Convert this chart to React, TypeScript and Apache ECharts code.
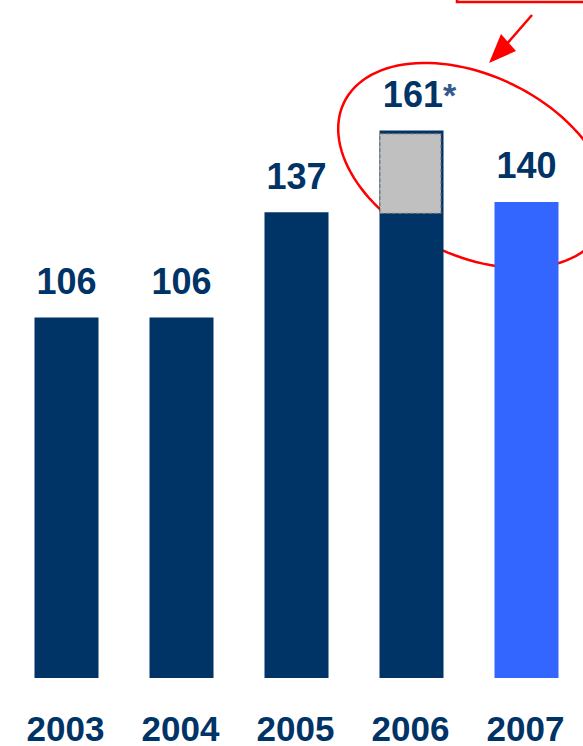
import React, { useEffect, useRef } from "react";
import * as echarts from "echarts";

const years = ["2003", "2004", "2005", "2006", "2007"];
const values = [106, 106, 137, 161, 140];
const valueLabels = ["106", "106", "137", "161*", "140"];
const barColors = ["#003366", "#003366", "#003366", "#003366", "#3366FF"];
// grey adjusted portion on the 2006 bar
const adjBase = [null, null, null, 136.5, null];
const adjPart = [null, null, null, 23.7, null];

function ellipsePoints(cx: number, cy: number, a: number, b: number, deg: number) {
  const phi = (deg * Math.PI) / 180;
  const pts: number[][] = [];
  for (let i = 0; i < 120; i++) {
    const t = (i / 120) * Math.PI * 2;
    const x = a * Math.cos(t);
    const y = b * Math.sin(t);
    pts.push([cx + x * Math.cos(phi) - y * Math.sin(phi), cy + x * Math.sin(phi) + y * Math.cos(phi)]);
  }
  return pts;
}

export default function App() {
  const ref = useRef<HTMLDivElement>(null);
  useEffect(() => {
    document.body.style.margin = "0";
    const chart = echarts.init(ref.current!, null, { renderer: "svg" });
    const textColor = "#003366";
    const font = "'Liberation Sans', Arial, sans-serif";
    chart.setOption({
      animation: false,
      grid: { left: 8, width: 575, top: 0, bottom: 68, containLabel: false },
      xAxis: {
        type: "category",
        data: years,
        axisLine: { show: false },
        axisTick: { show: false },
        axisLabel: {
          margin: 35,
          lineHeight: 30,
          color: textColor,
          fontSize: 35,
          fontWeight: "bold",
          fontFamily: font,
        },
      },
      yAxis: { type: "value", min: 0, max: 199.4, show: false, splitLine: { show: false } },
      series: [
        {
          type: "bar",
          barWidth: 64,
          barGap: "-100%",
          data: values.map((v, i) => ({ value: v, itemStyle: { color: barColors[i] } })),
          label: {
            show: true,
            position: "top",
            distance: 18,
            fontFamily: font,
            formatter: (p: any) => {
              const t = valueLabels[p.dataIndex];
              return t.endsWith("*") ? `{p| }{v|${t.slice(0, -1)}}{s|*}` : `{v|${t}}`;
            },
            rich: {
              v: { fontSize: 36, fontWeight: "bold", color: textColor, fontFamily: font },
              s: { fontSize: 34, fontWeight: "bold", color: "#34598c", fontFamily: font },
              p: { fontSize: 36, width: 16 },
            },
          },
        },
        {
          type: "bar",
          stack: "adj",
          barWidth: 62,
          barGap: "-100%",
          data: adjBase,
          itemStyle: { color: "transparent" },
          silent: true,
        },
        {
          type: "bar",
          stack: "adj",
          barWidth: 62,
          data: adjPart,
          itemStyle: { color: "#C0C0C0", borderColor: "#6f6f6f", borderWidth: 1, borderType: "dashed" },
        },
      ],
      graphic: [
        {
          type: "rect",
          shape: { x: 457, y: -20, width: 200, height: 22 },
          style: { fill: "none", stroke: "#FF0000", lineWidth: 2.5 },
        },
        {
          type: "line",
          shape: { x1: 532, y1: 15, x2: 505, y2: 46 },
          style: { stroke: "#FF0000", lineWidth: 2.5 },
        },
        {
          type: "polygon",
          shape: { points: [[489, 63], [501, 34], [516, 51]] },
          style: { fill: "#FF0000" },
        },
        {
          type: "polygon",
          shape: { points: ellipsePoints(473.5, 165.5, 144, 90, 26), smooth: 0 },
          style: { fill: "none", stroke: "#FF0000", lineWidth: 2.5 },
        },
      ],
    });
    return () => chart.dispose();
  }, []);
  return <div ref={ref} style={{ width: 583, height: 746 }} />;
}
